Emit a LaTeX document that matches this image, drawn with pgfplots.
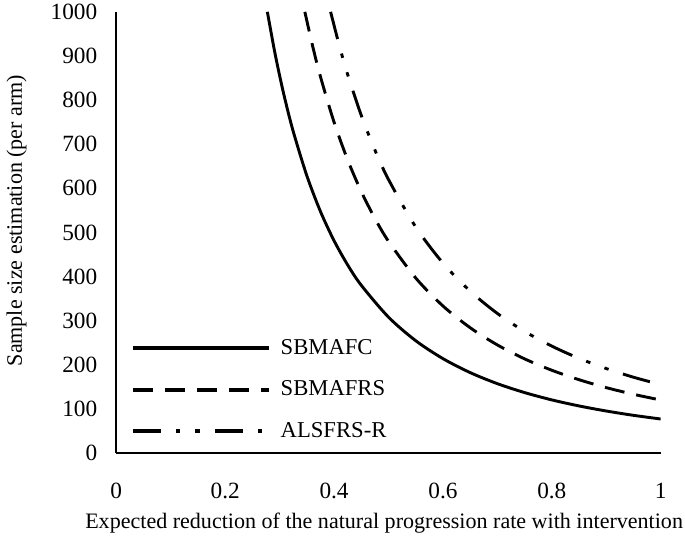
\documentclass[border=0pt]{standalone}
\usepackage{fontspec}
\setmainfont{Liberation Serif}
\usepackage{pgfplots}
\pgfplotsset{compat=1.18}
\begin{document}
\begin{tikzpicture}
\begin{axis}[
  scale only axis,
  width=271.5pt, height=220pt,
  xmin=0, xmax=1, ymin=0, ymax=1000,
  axis x line=bottom, axis y line=left,
  axis line style={-, line width=1pt, black},
  xtick={0,0.2,0.4,0.6,0.8,1},
  ytick={0,100,200,300,400,500,600,700,800,900,1000},
  major tick length=0pt,
  /pgf/number format/assume math mode=true,
  /pgf/number format/1000 sep={},
  tick label style={font=\fontsize{11.6}{13}\selectfont},
  xticklabel style={anchor=center, yshift=-19pt},
  yticklabel style={anchor=east, xshift=-6pt, inner ysep=2pt},
  xlabel={Expected reduction of the natural progression rate with intervention},
  ylabel={Sample size estimation (per arm)},
  label style={font=\fontsize{11}{13}\selectfont},
  xlabel style={at={(axis description cs:0.492,-0.159)}, anchor=center, inner xsep=1pt, inner ysep=2pt},
  ylabel style={at={(axis description cs:-0.183,0.527)}, anchor=center},
  legend style={at={(rel axis cs:0.026,0.268)}, anchor=north west, draw=none, fill=none,
    font=\fontsize{11.3}{13}\selectfont, row sep=7.8pt, inner sep=0pt},
  legend cell align=left,
  legend image code/.code={\draw[#1, line width=2pt] (0pt,0pt) -- (68pt,0pt); \path (71pt,0pt);},
  clip=true,
]
\addplot[black, line width=1.45pt, smooth] coordinates {
(0.2775,1000) (0.29,915.6) (0.3,855.6) (0.31,801.2) (0.325,729.0) (0.35,628.6)
(0.375,547.6) (0.4,481.3) (0.425,426.3) (0.45,380.2) (0.5,308.0) (0.55,254.5)
(0.6,213.9) (0.65,182.2) (0.7,157.1) (0.75,136.9) (0.8,120.3) (0.85,106.6)
(0.9,95.1) (0.95,85.3) (1,77.0)
};
\addlegendentry{SBMAFC}
\addplot[black, line width=1.45pt, smooth, dash pattern=on 10pt off 6pt] coordinates {
(0.3464,1000) (0.36,925.9) (0.375,853.3) (0.4,750.0) (0.425,664.4) (0.45,592.6)
(0.475,531.9) (0.5,480.0) (0.55,396.7) (0.6,333.3) (0.65,284.0) (0.7,244.9)
(0.75,213.3) (0.8,187.5) (0.85,166.1) (0.9,148.1) (0.95,133.0) (1,120.0)
};
\addlegendentry{SBMAFRS}
\addplot[black, line width=1.45pt, smooth, dash pattern=on 14pt off 7.5pt on 2.2pt off 7.5pt on 2.2pt off 7.5pt] coordinates {
(0.3937,1000) (0.41,922.1) (0.425,858.1) (0.45,765.4) (0.475,687.0) (0.5,620.0)
(0.55,512.4) (0.6,430.6) (0.65,366.9) (0.7,316.3) (0.75,275.6) (0.8,242.2)
(0.85,214.5) (0.9,191.4) (0.95,171.7) (1,155.0)
};
\addlegendentry{ALSFRS-R}
\end{axis}
\end{tikzpicture}
\end{document}
